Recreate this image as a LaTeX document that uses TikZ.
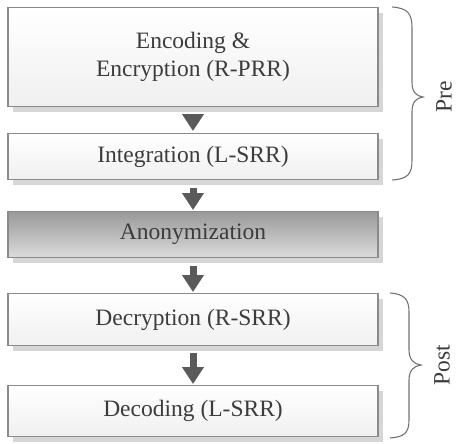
\documentclass[tikz,border=0pt]{standalone}
\usepackage{fontspec}
\setmainfont{Liberation Serif}
\usetikzlibrary{arrows.meta,shadows}
\definecolor{edge}{HTML}{8A8A8A}
\definecolor{ink}{HTML}{3C3C3C}
\definecolor{shade}{HTML}{D6D6D6}
\definecolor{flow}{HTML}{5A5A5A}
\tikzset{
  stage/.style={draw=edge, line width=1.1pt, minimum width=370pt, anchor=north,
    text=ink, font=\fontsize{23.5}{28}\selectfont, align=center, inner sep=0pt,
    drop shadow={shadow xshift=5pt, shadow yshift=-5pt, fill=shade, opacity=1},
    top color=white, bottom color=black!6},
  darkstage/.style={stage, top color=black!40, bottom color=black!14},
  flowarrow/.style={draw=flow, line width=7pt,
    -{Triangle[width=21pt,length=17pt]}},
  bracket/.style={draw=black!55, line width=1.1pt},
  side/.style={text=ink, font=\fontsize{23.5}{28}\selectfont, rotate=90}
}
\begin{document}
\begin{tikzpicture}[x=1pt,y=-1pt]
  \useasboundingbox (0,0) rectangle (458,444);
  % process stages
  \node[stage, minimum height=99pt] (enc) at (193,7) {Encoding \&\\Encryption (R-PRR)};
  \node[stage, minimum height=46pt] (int) at (193,133) {Integration (L-SRR)};
  \node[darkstage, minimum height=46pt] (ano) at (193,211) {Anonymization};
  \node[stage, minimum height=52pt] (dec) at (193,293) {Decryption (R-SRR)};
  \node[stage, minimum height=51pt] (dco) at (193,385) {Decoding (L-SRR)};
  % flow between stages
  \draw[flowarrow, shorten <=7pt, shorten >=2pt] (enc.south) -- (int.north);
  \draw[flowarrow, shorten <=8pt, shorten >=1pt] (int.south) -- (ano.north);
  \draw[flowarrow, shorten <=8pt, shorten >=1pt] (ano.south) -- (dec.north);
  \draw[flowarrow, shorten <=7pt, shorten >=1pt] (dec.south) -- (dco.north);
  % phase brackets
  \coordinate (pretip) at (423,97);
  \coordinate (posttip) at (421,365);
  \draw[bracket] (392,7) .. controls (408,8) and (412,14) .. (412,28)
    -- (412,82) .. controls (412,92) and (416,96) .. (pretip)
    .. controls (416,98) and (412,102) .. (412,112)
    -- (412,160) .. controls (412,174) and (408,179) .. (392,180);
  \draw[bracket] (390,293) .. controls (404,294) and (409,299) .. (409,312)
    -- (409,350) .. controls (409,360) and (414,364) .. (posttip)
    .. controls (414,366) and (409,370) .. (409,380)
    -- (409,420) .. controls (409,433) and (404,437) .. (390,438);
  \node[side] (pre) at (444,97) {Pre};
  \node[side] (post) at (442,365) {Post};
\end{tikzpicture}
\end{document}
